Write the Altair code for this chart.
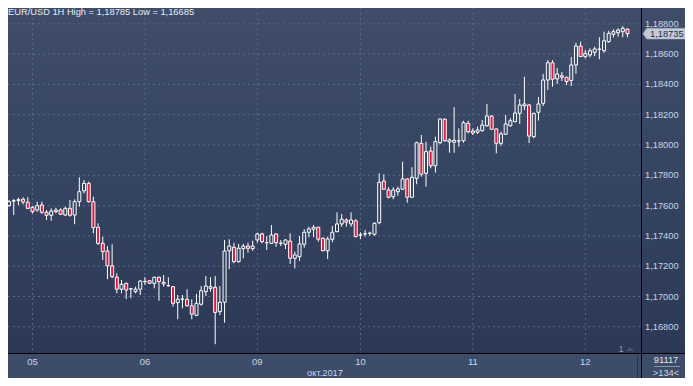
import altair as alt
import pandas as pd

# ---- data (EUR/USD, 1H candles) ----
opens = [1.17599, 1.17630, 1.17634, 1.17642, 1.17622, 1.17589, 1.17571, 1.17604, 1.17556, 1.17536,
         1.17560, 1.17571, 1.17538, 1.17582, 1.17538, 1.17626, 1.17698, 1.17747, 1.17626, 1.17457,
         1.17351, 1.17300, 1.17203, 1.17127, 1.17048, 1.17087, 1.17050, 1.17032, 1.17048, 1.17098,
         1.17104, 1.17087, 1.17127, 1.17094, 1.17071, 1.17065, 1.16959, 1.16982, 1.16982, 1.16939,
         1.16876, 1.16949, 1.17032, 1.17054, 1.17061, 1.16900, 1.16962, 1.17302, 1.17325, 1.17230,
         1.17316, 1.17333, 1.17316, 1.17373, 1.17413, 1.17355, 1.17351, 1.17413, 1.17351, 1.17345,
         1.17366, 1.17252, 1.17263, 1.17345, 1.17424, 1.17444, 1.17457, 1.17384, 1.17302, 1.17378,
         1.17428, 1.17479, 1.17505, 1.17479, 1.17500, 1.17406, 1.17413, 1.17417, 1.17411, 1.17487,
         1.17762, 1.17703, 1.17659, 1.17692, 1.17708, 1.17776, 1.17655, 1.17780, 1.18011, 1.17813,
         1.17960, 1.17863, 1.18015, 1.18170, 1.18020, 1.18018, 1.18026, 1.18028, 1.18143, 1.18092,
         1.18084, 1.18094, 1.18127, 1.18191, 1.18106, 1.18011, 1.18071, 1.18127, 1.18154, 1.18209,
         1.18259, 1.18264, 1.18055, 1.18216, 1.18275, 1.18429, 1.18543, 1.18436, 1.18457, 1.18447,
         1.18426, 1.18528, 1.18653, 1.18583, 1.18594, 1.18612, 1.18632, 1.18622, 1.18682, 1.18731,
         1.18741, 1.18748, 1.18764]
highs = [1.17637, 1.17644, 1.17652, 1.17655, 1.17655, 1.17597, 1.17626, 1.17626, 1.17571, 1.17582,
         1.17586, 1.17582, 1.17593, 1.17637, 1.17642, 1.17787, 1.17769, 1.17758, 1.17659, 1.17483,
         1.17395, 1.17333, 1.17345, 1.17153, 1.17109, 1.17091, 1.17054, 1.17065, 1.17109, 1.17127,
         1.17109, 1.17131, 1.17131, 1.17142, 1.17127, 1.17069, 1.17010, 1.17010, 1.17048, 1.16982,
         1.17017, 1.17069, 1.17135, 1.17127, 1.17135, 1.17069, 1.17373, 1.17378, 1.17355, 1.17347,
         1.17347, 1.17355, 1.17368, 1.17421, 1.17421, 1.17399, 1.17472, 1.17417, 1.17373, 1.17378,
         1.17417, 1.17296, 1.17399, 1.17444, 1.17461, 1.17472, 1.17461, 1.17391, 1.17395, 1.17465,
         1.17556, 1.17545, 1.17516, 1.17556, 1.17510, 1.17424, 1.17439, 1.17428, 1.17490, 1.17813,
         1.17807, 1.17721, 1.17721, 1.17725, 1.17890, 1.17780, 1.17853, 1.18022, 1.18066, 1.18022,
         1.17989, 1.18055, 1.18176, 1.18176, 1.18044, 1.18249, 1.18110, 1.18160, 1.18160, 1.18110,
         1.18121, 1.18165, 1.18271, 1.18198, 1.18110, 1.18088, 1.18198, 1.18176, 1.18337, 1.18304,
         1.18451, 1.18271, 1.18213, 1.18317, 1.18469, 1.18561, 1.18561, 1.18508, 1.18482, 1.18451,
         1.18581, 1.18675, 1.18682, 1.18627, 1.18638, 1.18649, 1.18711, 1.18748, 1.18754, 1.18764,
         1.18770, 1.18785, 1.18770]
lows = [1.17593, 1.17538, 1.17604, 1.17609, 1.17578, 1.17549, 1.17560, 1.17545, 1.17505, 1.17500,
        1.17549, 1.17538, 1.17531, 1.17527, 1.17477, 1.17593, 1.17681, 1.17619, 1.17417, 1.17340,
        1.17241, 1.17114, 1.17120, 1.17021, 1.17021, 1.16984, 1.16988, 1.17021, 1.17010, 1.17076,
        1.17083, 1.17054, 1.16972, 1.17065, 1.17065, 1.16933, 1.16850, 1.16922, 1.16933, 1.16850,
        1.16871, 1.16939, 1.17003, 1.17032, 1.16685, 1.16878, 1.16827, 1.17180, 1.17219, 1.17223,
        1.17252, 1.17289, 1.17302, 1.17355, 1.17351, 1.17307, 1.17347, 1.17329, 1.17333, 1.17314,
        1.17215, 1.17186, 1.17234, 1.17322, 1.17391, 1.17391, 1.17362, 1.17300, 1.17248, 1.17358,
        1.17424, 1.17461, 1.17461, 1.17461, 1.17391, 1.17380, 1.17395, 1.17401, 1.17401, 1.17477,
        1.17703, 1.17648, 1.17642, 1.17665, 1.17703, 1.17619, 1.17650, 1.17741, 1.17791, 1.17725,
        1.17846, 1.17817, 1.18005, 1.18022, 1.17949, 1.17949, 1.17989, 1.18015, 1.18077, 1.18066,
        1.18073, 1.18088, 1.18121, 1.18099, 1.17945, 1.17995, 1.18066, 1.18121, 1.18150, 1.18139,
        1.18231, 1.18013, 1.18044, 1.18162, 1.18257, 1.18363, 1.18385, 1.18403, 1.18422, 1.18396,
        1.18389, 1.18469, 1.18579, 1.18572, 1.18579, 1.18587, 1.18566, 1.18609, 1.18675, 1.18711,
        1.18715, 1.18711, 1.18711]
closes = [1.17626, 1.17632, 1.17639, 1.17624, 1.17582, 1.17560, 1.17599, 1.17556, 1.17536, 1.17564,
          1.17571, 1.17543, 1.17582, 1.17536, 1.17626, 1.17692, 1.17747, 1.17626, 1.17454, 1.17351,
          1.17296, 1.17203, 1.17131, 1.17048, 1.17081, 1.17043, 1.17051, 1.17048, 1.17102, 1.17100,
          1.17087, 1.17127, 1.17098, 1.17083, 1.17072, 1.16955, 1.16982, 1.16983, 1.16939, 1.16883,
          1.16955, 1.17038, 1.17069, 1.17065, 1.16895, 1.16962, 1.17300, 1.17333, 1.17230, 1.17318,
          1.17333, 1.17318, 1.17333, 1.17413, 1.17362, 1.17356, 1.17406, 1.17355, 1.17352, 1.17373,
          1.17252, 1.17274, 1.17347, 1.17424, 1.17446, 1.17457, 1.17378, 1.17302, 1.17380, 1.17424,
          1.17479, 1.17510, 1.17490, 1.17505, 1.17395, 1.17407, 1.17414, 1.17418, 1.17483, 1.17754,
          1.17708, 1.17655, 1.17703, 1.17710, 1.17776, 1.17655, 1.17787, 1.18015, 1.17807, 1.17956,
          1.17863, 1.18022, 1.18172, 1.18028, 1.18033, 1.18031, 1.18027, 1.18147, 1.18088, 1.18079,
          1.18099, 1.18132, 1.18191, 1.18104, 1.18011, 1.18073, 1.18139, 1.18160, 1.18211, 1.18264,
          1.18271, 1.18059, 1.18209, 1.18271, 1.18429, 1.18543, 1.18434, 1.18469, 1.18447, 1.18419,
          1.18528, 1.18653, 1.18584, 1.18605, 1.18622, 1.18634, 1.18633, 1.18688, 1.18737, 1.18748,
          1.18759, 1.18770, 1.18735]

day_starts = [5, 29, 53, 75, 99, 123]
day_labels = ["05", "06", "09", "10", "11", "12"]
price_ticks = [1.168, 1.170, 1.172, 1.174, 1.176, 1.178, 1.180, 1.182, 1.184, 1.186, 1.188]
symbol_name = "EUR/USD"
timeframe = "1H"
month_label = "окт.2017"
bars_total = "91117"
bars_visible = ">134<"
marker_label = "1"

# ---- layout (whole chart 677 x 370 so that it fits the page with its 8px margin) ----
W, H = 633, 345
RIGHT, BOTTOM = 44, 25
X_DOMAIN = [0.84, 133.82]
Y_DOMAIN = [1.166271, 1.189043]
FONT = "Liberation Sans"
LABEL_COLOR = "#c4d5ee"
RED = "#e3173f"
GRID = "#56678a"
TOTAL_W = W + RIGHT
TOTAL_H = H + BOTTOM


def fmt(v):
    return f"{v:.5f}".replace(".", ",")


df = pd.DataFrame({"i": list(range(len(opens))), "open": opens, "high": highs,
                   "low": lows, "close": closes})

xs = alt.Scale(domain=X_DOMAIN, nice=False, zero=False)
ys = alt.Scale(domain=Y_DOMAIN, nice=False, zero=False)


def X(f):
    return alt.X(f, type="quantitative", scale=xs, axis=None)


def Y(f):
    return alt.Y(f, type="quantitative", scale=ys, axis=None)


one = pd.DataFrame({"k": [0]})

bg = alt.Chart(one).mark_rect(color={
    "gradient": "linear", "x1": 0, "x2": 0, "y1": 0, "y2": 1,
    "stops": [{"offset": 0, "color": "#3f4d69"},
              {"offset": 0.5, "color": "#354461"},
              {"offset": 1, "color": "#2b3956"}]}).encode(
    x=alt.value(0), x2=alt.value(TOTAL_W), y=alt.value(0), y2=alt.value(H))
band = alt.Chart(one).mark_rect(color="#3d4c68").encode(
    x=alt.value(0), x2=alt.value(TOTAL_W), y=alt.value(H), y2=alt.value(TOTAL_H))

hgrid = alt.Chart(pd.DataFrame({"v": price_ticks})).mark_rule(
    color=GRID, strokeDash=[2, 3], strokeWidth=1).encode(
    y=Y("v"), x=alt.value(0), x2=alt.value(W))
vgrid = alt.Chart(pd.DataFrame({"i": day_starts})).mark_rule(
    color=GRID, strokeDash=[2, 3], strokeWidth=1).encode(
    x=X("i"), y=alt.value(0), y2=alt.value(H))

base = alt.Chart(df).transform_calculate(
    top="max(datum.open, datum.close)", bot="min(datum.open, datum.close)")
upper = base.mark_rule(color="white", strokeWidth=1, clip=True).encode(
    x=X("i"), y=Y("high"), y2=alt.Y2("top"))
lower = base.mark_rule(color="white", strokeWidth=1, clip=True).encode(
    x=X("i"), y=Y("bot"), y2=alt.Y2("low"))
bodies = base.mark_bar(size=3, stroke="white", strokeWidth=1, clip=True).encode(
    x=X("i"), y=Y("open"), y2=alt.Y2("close"),
    fill=alt.condition("datum.close >= datum.open", alt.value("transparent"), alt.value(RED)))

vline = alt.Chart(one).mark_rule(color="#000000", strokeWidth=1).encode(
    x=alt.value(W + 0.5), y=alt.value(0), y2=alt.value(TOTAL_H))
hline = alt.Chart(one).mark_rule(color="#000000", strokeWidth=1).encode(
    x=alt.value(0), x2=alt.value(TOTAL_W), y=alt.value(H + 0.5))

ylab = alt.Chart(pd.DataFrame({"v": price_ticks, "label": [fmt(v) for v in price_ticks]})).mark_text(
    align="left", baseline="middle", font=FONT, fontSize=9.3, color=LABEL_COLOR).encode(
    x=alt.value(W + 4), y=Y("v"), text="label:N")
xlab = alt.Chart(pd.DataFrame({"i": day_starts, "label": day_labels})).mark_text(
    align="center", baseline="middle", font=FONT, fontSize=9.5, color=LABEL_COLOR).encode(
    x=X("i"), y=alt.value(354), text="label:N")

last = pd.DataFrame({"p": [closes[-1]], "label": [fmt(closes[-1])]})
tag = alt.Chart(last).mark_point(
    shape="M-1,0L-0.82,-0.26L1,-0.26L1,0.26L-0.82,0.26Z", size=42 * 42,
    filled=True, fill="#c3cad4", stroke="#98a2b2", strokeWidth=0.5, opacity=1).encode(
    x=alt.value(656), y=Y("p"))
tagtext = alt.Chart(last).mark_text(
    align="left", baseline="middle", font=FONT, fontSize=9.3, color="#1b2b4a").encode(
    x=alt.value(642), y=Y("p"), text="label:N")

title_txt = f"{symbol_name} {timeframe} High = {fmt(max(highs))} Low = {fmt(min(lows))}"
title = alt.Chart(pd.DataFrame({"t": [title_txt]})).mark_text(
    align="left", baseline="alphabetic", font=FONT, fontSize=9.3, color="#e6ecf5").encode(
    x=alt.value(0), y=alt.value(7), text="t:N")

misc = pd.DataFrame({
    "t": [month_label, bars_total, bars_visible, marker_label],
    "x": [317, 658, 658, 613],
    "y": [364.5, 351.5, 365, 341],
    "c": ["#c4d5ee", "#e0e6ef", "#cdd4de", "#8a97ae"],
})
misc_text = alt.Chart(misc).mark_text(
    align="center", baseline="middle", font=FONT, fontSize=9.3).encode(
    x=alt.X("x:Q", scale=None, axis=None), y=alt.Y("y:Q", scale=None, axis=None),
    text="t:N", color=alt.Color("c:N", scale=None))

sep = alt.Chart(one).mark_rule(color="#8793a8", strokeWidth=1).encode(
    x=alt.value(646), x2=alt.value(672), y=alt.value(358.5))
bandsep = alt.Chart(one).mark_rule(color="#26324a", strokeWidth=1).encode(
    x=alt.value(629.5), y=alt.value(348), y2=alt.value(TOTAL_H))
tri = alt.Chart(one).mark_point(
    shape="M-1,0.5L0,-0.5L1,0.5Z", size=64, filled=True, color="#4b5670", opacity=1).encode(
    x=alt.value(622), y=alt.value(341))

chart = alt.layer(
    bg, band, hgrid, vgrid, upper, lower, bodies,
    vline, hline, ylab, xlab, tag, tagtext, title, misc_text, sep, bandsep, tri
).properties(
    width=W, height=H,
    padding={"left": 0, "top": 0, "right": RIGHT, "bottom": BOTTOM},
    autosize=alt.AutoSizeParams(type="none"),
    background="#2b3956",
).configure_view(stroke=None)

chart.save("out.html", embed_options={"renderer": "svg", "actions": False})
